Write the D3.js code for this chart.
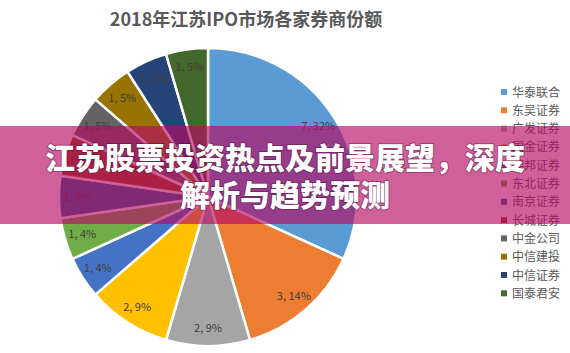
<!DOCTYPE html>
<html>
<head>
<meta charset="utf-8">
<script src="https://cdn.jsdelivr.net/npm/d3@7"></script>
<style>
  body { margin: 0; background: #fff; }
  svg { display: block; }
</style>
</head>
<body>
<svg width="570" height="353"></svg>
<script>
// broker names, deal counts and the % labels Excel printed
const brokers = ["华泰联合", "东吴证券", "广发证券", "国金证券", "德邦证券", "东北证券",
                 "南京证券", "长城证券", "中金公司", "中信建投", "中信证券", "国泰君安"];
const counts = [7, 3, 2, 2, 1, 1, 1, 1, 1, 1, 1, 1];
const pctLabels = [32, 14, 9, 9, 4, 4, 4, 4, 5, 5, 5, 5];
const colors = ["#5B9BD5", "#ED7D31", "#A5A5A5", "#FFC000", "#4472C4", "#70AD47",
                "#255E91", "#9E480E", "#636363", "#997300", "#264478", "#43682B"];
const title = "2018年江苏IPO市场各家券商份额";
const bannerLines = ["江苏股票投资热点及前景展望，深度", "解析与趋势预测"];

const svg = d3.select("svg");
const font = "'Noto Sans CJK SC', 'Noto Sans', sans-serif";

// title
svg.append("text")
    .attr("x", 246)
    .attr("y", 26)
    .attr("text-anchor", "middle")
    .style("font-family", font)
    .style("font-size", "18px")
    .style("font-weight", "bold")
    .style("fill", "#595959")
    .text(title);

const data = brokers.map((b, i) => ({ name: b, count: counts[i], pct: pctLabels[i], color: colors[i] }));

const cx = 208, cy = 197, radius = 149;
const g = svg.append("g").attr("transform", `translate(${cx},${cy})`);

const pie = d3.pie().sort(null).value(d => d.count);
const arc = d3.arc().innerRadius(0).outerRadius(radius);
const labelArc = d3.arc().innerRadius(131).outerRadius(131);

const arcs = pie(data);

g.selectAll("path")
    .data(arcs)
    .enter().append("path")
    .attr("d", arc)
    .attr("fill", d => d.data.color)
    .attr("stroke", "#fff")
    .attr("stroke-width", 2.5);

g.selectAll(".label")
    .data(arcs)
    .enter().append("text")
    .attr("class", "label")
    .attr("transform", d => `translate(${labelArc.centroid(d)})`)
    .attr("text-anchor", "middle")
    .attr("dy", "0.35em")
    .style("font-family", font)
    .style("font-size", "11px")
    .style("fill", "#404040")
    .text(d => `${d.data.count}, ${d.data.pct}%`);

// legend
const legend = svg.append("g").attr("transform", "translate(501,92)");
const rows = legend.selectAll("g")
    .data(data)
    .enter().append("g")
    .attr("transform", (d, i) => `translate(0,${i * 18.3})`);

rows.append("rect")
    .attr("x", 0)
    .attr("y", -3)
    .attr("width", 6)
    .attr("height", 6)
    .attr("fill", d => d.color);

rows.append("text")
    .attr("x", 11)
    .attr("y", 4.5)
    .style("font-family", font)
    .style("font-size", "12px")
    .style("fill", "#595959")
    .text(d => d.name);

// pink banner on top
svg.append("rect")
    .attr("x", 0)
    .attr("y", 126)
    .attr("width", 570)
    .attr("height", 98)
    .attr("fill", "rgb(181,10,100)")
    .attr("fill-opacity", 0.65);

svg.selectAll(".banner")
    .data(bannerLines)
    .enter().append("text")
    .attr("class", "banner")
    .attr("x", 285)
    .attr("y", (d, i) => 169 + i * 37)
    .attr("text-anchor", "middle")
    .style("font-family", font)
    .style("font-size", "30px")
    .style("font-weight", "900")
    .style("fill", "#fff")
    .style("paint-order", "stroke")
    .style("stroke", "rgba(60,0,40,0.35)")
    .style("stroke-width", "2px")
    .text(d => d);
</script>
</body>
</html>
